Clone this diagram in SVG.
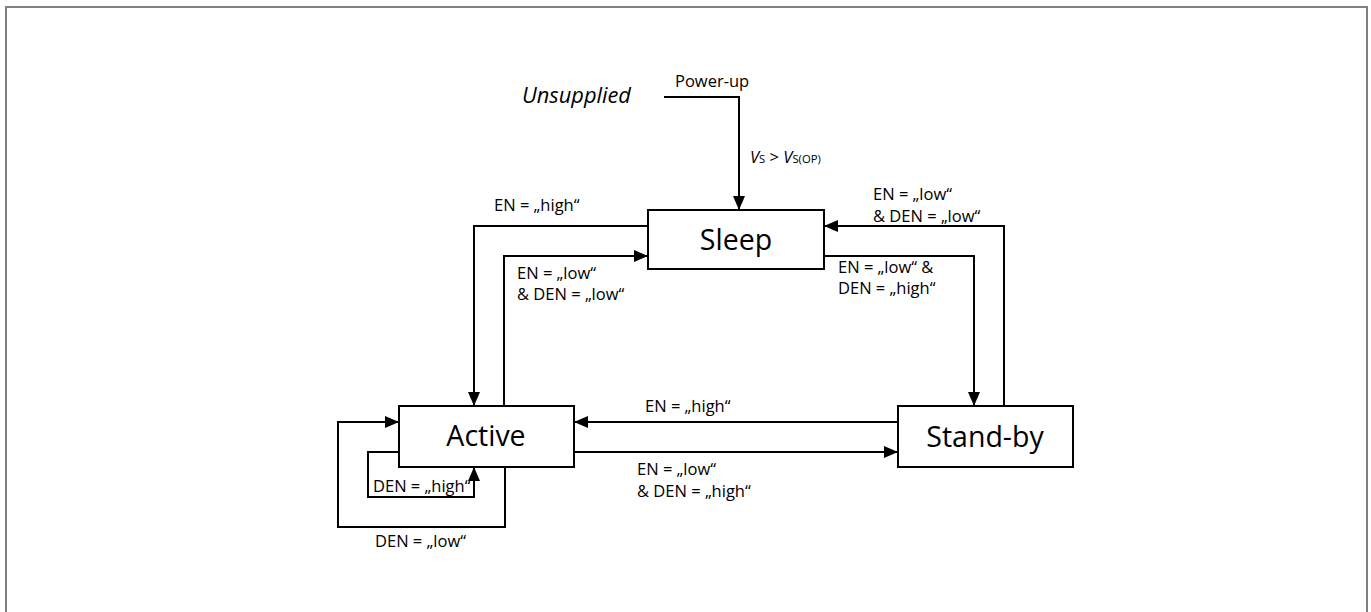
<svg xmlns="http://www.w3.org/2000/svg" width="1371" height="612" viewBox="0 0 1371 612">
<style>
.node rect{fill:#fff;stroke:#000;stroke-width:2}
.nt{font-family:"Open Sans","Liberation Sans",sans-serif;font-size:28.5px;fill:#000;text-anchor:middle}
.lb{font-family:"Open Sans","Liberation Sans",sans-serif;font-size:16.5px;fill:#000}
.conn path{fill:none;stroke:#000;stroke-width:2}
</style>
<defs>
<marker id="ah" markerWidth="14" markerHeight="12" refX="14" refY="6" orient="auto" markerUnits="userSpaceOnUse">
<path d="M0,0 L14,6 L0,12 Z" fill="#000"/>
</marker>
</defs>
<rect x="6" y="7" width="1361" height="640" fill="#fff" stroke="#808080" stroke-width="2"/>
<g id="unsupplied">
<text x="522" y="103" font-family="Open Sans, Liberation Sans, sans-serif" font-size="21.8" font-style="italic">Unsupplied</text>
</g>
<g class="conn" id="connectors">
<path d="M664,97 H739 V210" marker-end="url(#ah)"/>
<path d="M648,226 H474 V406" marker-end="url(#ah)"/>
<path d="M504,406 V256 H648" marker-end="url(#ah)"/>
<path d="M1004,406 V226 H824" marker-end="url(#ah)"/>
<path d="M824,256 H974 V406" marker-end="url(#ah)"/>
<path d="M898,422 H574" marker-end="url(#ah)"/>
<path d="M574,452 H898" marker-end="url(#ah)"/>
<path d="M505,467 V527 H338 V422 H399" marker-end="url(#ah)"/>
<path d="M399,452 H368 V497 H474 V467" marker-end="url(#ah)"/>
</g>
<g id="labels">
<text class="lb" x="675" y="87">Power-up</text>
<text class="lb" x="750" y="163" font-size="15.8"><tspan font-style="italic">V</tspan><tspan font-size="11.3">S</tspan> &gt; <tspan font-style="italic">V</tspan><tspan font-size="11.3">S(OP)</tspan></text>
<text class="lb" x="494" y="211">EN = „high“</text>
<text class="lb" x="517" y="279">EN = „low“</text>
<text class="lb" x="517" y="300">&amp; DEN = „low“</text>
<text class="lb" x="873" y="200">EN = „low“</text>
<text class="lb" x="873" y="222">&amp; DEN = „low“</text>
<text class="lb" x="838" y="273">EN = „low“ &amp;</text>
<text class="lb" x="838" y="294">DEN = „high“</text>
<text class="lb" x="645" y="412">EN = „high“</text>
<text class="lb" x="637" y="475">EN = „low“</text>
<text class="lb" x="637" y="497">&amp; DEN = „high“</text>
<text class="lb" x="373" y="492">DEN = „high“</text>
<text class="lb" x="375" y="547">DEN = „low“</text>
</g>
<g id="sleep" class="node"><rect x="648" y="210" width="176" height="59"/><text class="nt" x="736" y="250">Sleep</text></g>
<g id="active" class="node"><rect x="399" y="406" width="175" height="61"/><text class="nt" x="486" y="446">Active</text></g>
<g id="standby" class="node"><rect x="898" y="406" width="175" height="61"/><text class="nt" x="985" y="447">Stand-by</text></g>
</svg>
